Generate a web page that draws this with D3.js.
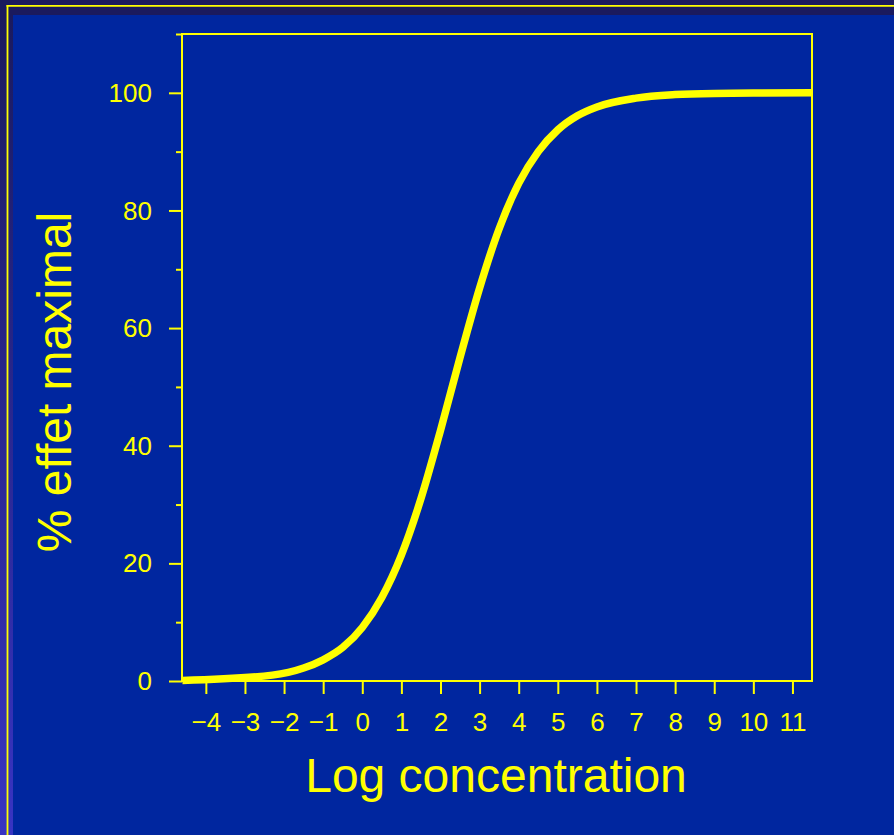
<!DOCTYPE html>
<html>
<head>
<meta charset="utf-8">
<script src="https://cdn.jsdelivr.net/npm/d3@7"></script>
<style>
  body { margin: 0; background: #1b1a5e; }
  text { font-family: "Liberation Sans", Arial, sans-serif; fill: #ffff00; }
</style>
</head>
<body>
<script>
    // curve: log concentration vs % of max effect
    var logConc = [-4.6, -2.3, -1.5, -1, -0.5, 0, 0.5, 1, 1.5, 2, 2.5, 3, 3.5, 4, 4.5, 5, 5.5, 6, 7, 8, 9, 10, 11.5];
    var effect  = [0.1, 1.0, 2.2, 3.6, 5.7, 9.1, 14.2, 21.4, 31.0, 42.6, 55.0, 66.8, 76.9, 84.6, 90.0, 93.7, 96.1, 97.6, 99.1, 99.7, 99.9, 99.95, 100];

    var xTicks = [-4, -3, -2, -1, 0, 1, 2, 3, 4, 5, 6, 7, 8, 9, 10, 11];
    var yTicks = [0, 20, 40, 60, 80, 100];
    var yMinor = [10, 30, 50, 70, 90, 110];

    var width = 894;
    var height = 835;
    var plotLeft = 182, plotRight = 812, plotTop = 34, plotBottom = 681;
    var yellow = '#ffff00';

    var svg = d3.select('body')
        .append('svg')
        .attr('width', width)
        .attr('height', height);

    // slide frame
    var grad = svg.append('defs').append('linearGradient')
        .attr('id', 'side')
        .attr('x1', 0).attr('y1', 0).attr('x2', 0).attr('y2', 1);
    grad.append('stop').attr('offset', '0%').attr('stop-color', '#1b1a5e');
    grad.append('stop').attr('offset', '100%').attr('stop-color', '#3834c2');

    svg.append('rect').attr('width', width).attr('height', height).attr('fill', '#1b1a5e');
    svg.append('rect').attr('x', 0).attr('y', 15).attr('width', 13).attr('height', height - 15).attr('fill', 'url(#side)');
    svg.append('rect').attr('x', 13).attr('y', 15).attr('width', width - 13).attr('height', height - 15).attr('fill', '#00269f');
    svg.append('line').attr('x1', 6.5).attr('x2', width).attr('y1', 5.8).attr('y2', 5.8)
        .attr('stroke', yellow).attr('stroke-width', 1.8);
    svg.append('line').attr('x1', 7.5).attr('x2', 7.5).attr('y1', 5).attr('y2', height)
        .attr('stroke', yellow).attr('stroke-width', 1.8);

    // scales
    var xScale = d3.scaleLinear()
        .domain([-4.61, 11.5])
        .range([plotLeft, plotRight]);

    var yScale = d3.scaleLinear()
        .domain([0, 110])
        .range([plotBottom, plotTop]);

    // axes
    var yAxis = d3.axisLeft(yScale)
        .tickValues(yTicks)
        .tickSize(13)
        .tickPadding(17)
        .tickFormat(d3.format('d'));

    var yMinorAxis = d3.axisLeft(yScale)
        .tickValues(yMinor)
        .tickSize(6)
        .tickFormat('');

    var xAxis = d3.axisBottom(xScale)
        .tickValues(xTicks)
        .tickSize(13)
        .tickFormat(d3.format('d'));

    var gy = svg.append('g')
        .attr('transform', 'translate(' + plotLeft + ',0)')
        .call(yAxis);
    gy.selectAll('text').attr('font-size', 26).attr('dy', '0.33em');

    svg.append('g')
        .attr('transform', 'translate(' + plotLeft + ',0)')
        .call(yMinorAxis);

    var gx = svg.append('g')
        .attr('transform', 'translate(0,' + plotBottom + ')')
        .call(xAxis);
    gx.selectAll('text').attr('font-size', 26).attr('y', 50).attr('dy', 0);

    svg.selectAll('.domain').remove();
    svg.selectAll('.tick line').attr('stroke', yellow).attr('stroke-width', 2);
    svg.selectAll('.tick text').attr('fill', yellow).attr('font-family', '"Liberation Sans", Arial, sans-serif');

    // plot box
    svg.append('rect')
        .attr('x', plotLeft)
        .attr('y', plotTop)
        .attr('width', plotRight - plotLeft)
        .attr('height', plotBottom - plotTop)
        .attr('fill', 'none')
        .attr('stroke', yellow)
        .attr('stroke-width', 2);

    // curve
    var points = logConc.map((d, i) => [d, effect[i]]);
    var line = d3.line()
        .x(d => xScale(d[0]))
        .y(d => yScale(d[1]))
        .curve(d3.curveMonotoneX);

    svg.append('path')
        .datum(points)
        .attr('d', line)
        .attr('fill', 'none')
        .attr('stroke', yellow)
        .attr('stroke-width', 7.5);

    // titles
    svg.append('text')
        .attr('x', (plotLeft + plotRight) / 2 - 1)
        .attr('y', 792)
        .attr('text-anchor', 'middle')
        .attr('font-size', 48)
        .text('Log concentration');

    svg.append('text')
        .attr('transform', 'translate(71,382) rotate(-90)')
        .attr('text-anchor', 'middle')
        .attr('font-size', 48)
        .text('% effet maximal');
</script>
</body>
</html>
